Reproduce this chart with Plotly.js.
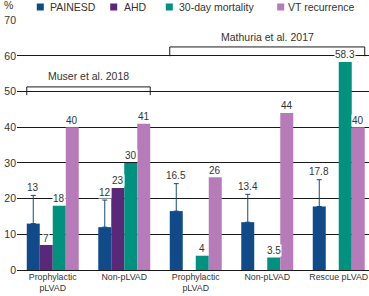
<!DOCTYPE html>
<html>
<head>
<meta charset="utf-8">
<script src="https://cdn.plot.ly/plotly-3.0.1.min.js"></script>
<style>
  html, body { margin: 0; padding: 0; background: #ffffff; }
  #chart { width: 369px; height: 296px; }
</style>
</head>
<body>
<div id="chart"></div>
<script>
// ---------- data ----------
var groupIndex = [0, 1, 2, 3, 4];
var tickLabels = ["Prophylactic<br>pLVAD", "Non-pLVAD", "Prophylactic<br>pLVAD", "Non-pLVAD", "Rescue pLVAD"];

var seriesNames = ["PAINESD", "AHD", "30-day mortality", "VT recurrence"];
var painesd     = [13, 12, 16.5, 13.4, 17.8];
var painesdErr  = [7.9, 7.6, 7.7, 7.8, 7.5];
var ahd         = [7, 23, null, null, null];
var mortality   = [18, 30, 4, 3.5, 58.3];
var vtRecurrence = [40, 41, 26, 44, 40];

var studyNames  = ["Muser et al. 2018", "Mathuria et al. 2017"];
var studyFirst  = [0, 2];
var studyLast   = [1, 4];

// ---------- styling ----------
var colors = ["#104a89", "#5b2779", "#00927e", "#b87bb9"];
var textColor = "#333333";
var lineColor = "#1a1a1a";
var fontFamily = "Liberation Sans, Arial, sans-serif";
var bargap = 0.273;

// layout geometry (pixels)
var W = 369, H = 296, mL = 17, mR = 0, mT = 20, mB = 26;
var plotW = W - mL - mR, plotH = H - mT - mB;
function px2paperX(px) { return (px - mL) / plotW; }
function px2paperY(py) { return 1 + (mT - py) / plotH; }

var allSeries = [painesd, ahd, mortality, vtRecurrence];

// ---------- traces ----------
var traces = allSeries.map(function (vals, s) {
  var t = {
    type: "bar",
    name: seriesNames[s],
    x: groupIndex,
    y: vals,
    marker: { color: colors[s], line: { width: 0 } },
    hoverinfo: "name+y"
  };
  if (s === 0) {
    t.error_y = {
      type: "data",
      symmetric: false,
      array: painesdErr,
      arrayminus: painesdErr.map(function () { return 0; }),
      color: colors[0],
      thickness: 1,
      width: 2.5
    };
  }
  return t;
});

// ---------- annotations ----------
var annotations = [];
var barW = (1 - bargap) / seriesNames.length;

allSeries.forEach(function (vals, s) {
  var off = (s - (seriesNames.length - 1) / 2) * barW;
  vals.forEach(function (v, i) {
    if (v === null || v === undefined) return;
    var top = v + (s === 0 ? painesdErr[i] : 0);
    annotations.push({
      x: groupIndex[i] + off, y: top,
      xref: "x", yref: "y",
      text: String(v),
      showarrow: false,
      yanchor: "middle",
      yshift: s === 0 ? 8 : 7,
      bgcolor: "#ffffff",
      borderpad: 0,
      font: { family: fontFamily, size: 10, color: textColor }
    });
  });
});

// study brackets
var bracketLine = [51.3, 62.5];
var bracketTick = [49.0, 59.9];
var bracketText = [54.4, 65.2];
var shapes = [];
var half = (1 - bargap) / 2;
studyNames.forEach(function (name, k) {
  var x0 = groupIndex[studyFirst[k]] - half;
  var x1 = groupIndex[studyLast[k]] + half;
  shapes.push({
    type: "path", xref: "x", yref: "y",
    path: "M" + x0 + "," + bracketTick[k] + " L" + x0 + "," + bracketLine[k] +
          " L" + x1 + "," + bracketLine[k] + " L" + x1 + "," + bracketTick[k],
    line: { color: lineColor, width: 1 }
  });
  annotations.push({
    x: (x0 + x1) / 2, y: bracketText[k], xref: "x", yref: "y",
    text: name, showarrow: false,
    font: { family: fontFamily, size: 10.5, color: textColor }
  });
});

// legend (manual, compact squares)
var legendSquareX = [40.3, 113.7, 169.3, 280.7];
var legendTextX   = [48.3, 122.3, 177.3, 286.3];
var legendY = 7;
seriesNames.forEach(function (name, s) {
  shapes.push({
    type: "rect", xref: "paper", yref: "paper",
    xsizemode: "pixel", ysizemode: "pixel",
    xanchor: px2paperX(legendSquareX[s]), yanchor: px2paperY(legendY),
    x0: -3.5, x1: 3.5, y0: -3.5, y1: 3.5,
    fillcolor: colors[s], line: { width: 0 }
  });
  annotations.push({
    x: px2paperX(legendTextX[s]), y: px2paperY(legendY),
    xref: "paper", yref: "paper", xanchor: "left", yanchor: "middle",
    text: name, showarrow: false,
    font: { family: fontFamily, size: 10.5, color: textColor }
  });
});

// "%" unit label
annotations.push({
  x: px2paperX(1.5), y: px2paperY(5),
  xref: "paper", yref: "paper", xanchor: "left", yanchor: "middle",
  text: "%", showarrow: false,
  font: { family: fontFamily, size: 10.5, color: textColor }
});

var layout = {
  width: W, height: H,
  margin: { l: mL, r: mR, t: mT, b: mB, pad: 0 },
  paper_bgcolor: "#ffffff",
  plot_bgcolor: "#ffffff",
  barmode: "group",
  bargap: bargap,
  bargroupgap: 0,
  showlegend: false,
  font: { family: fontFamily, color: textColor },
  xaxis: {
    range: [-0.5, -0.5 + plotW / 71.5],
    tickmode: "array",
    tickvals: groupIndex,
    ticktext: tickLabels,
    ticklabeloverflow: "allow",
    showgrid: false, zeroline: false, showline: false,
    ticks: "",
    tickfont: { family: fontFamily, size: 8.8, color: textColor },
    fixedrange: true
  },
  yaxis: {
    range: [0, 70.05],
    dtick: 10, tick0: 0,
    showgrid: true, gridcolor: lineColor, gridwidth: 1,
    zeroline: true, zerolinecolor: lineColor, zerolinewidth: 1,
    showline: false,
    ticks: "",
    tickfont: { family: fontFamily, size: 10.5, color: textColor },
    fixedrange: true
  },
  shapes: shapes,
  annotations: annotations
};

Plotly.newPlot("chart", traces, layout, { displayModeBar: false, staticPlot: true });
</script>
</body>
</html>
